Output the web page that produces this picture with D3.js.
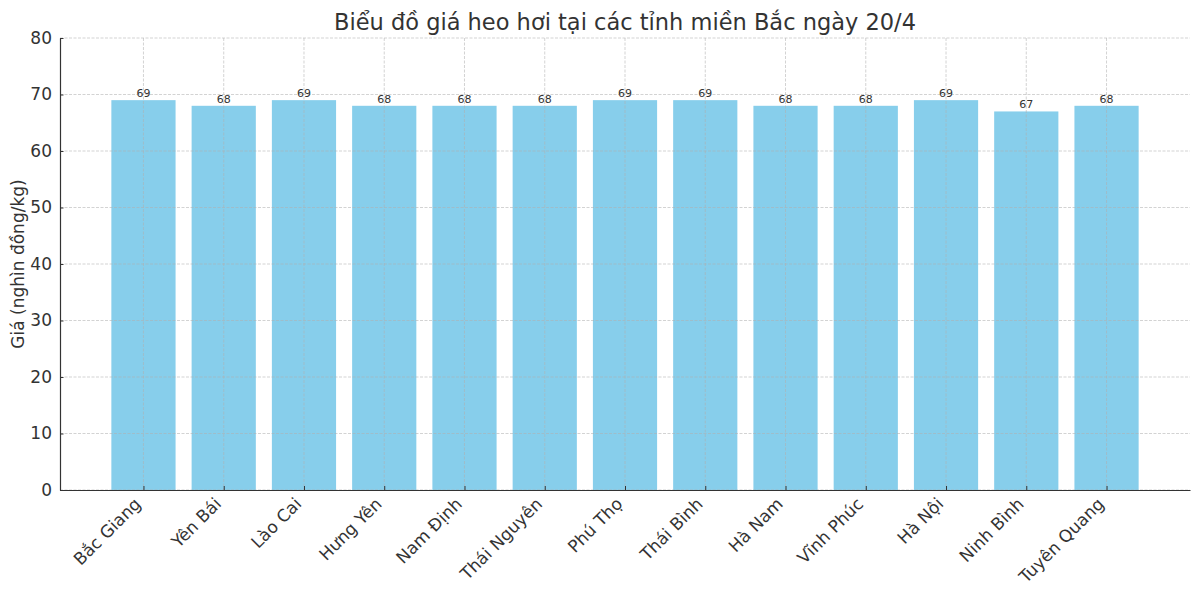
<!DOCTYPE html>
<html>
<head>
<meta charset="utf-8">
<script src="https://cdn.jsdelivr.net/npm/d3@7"></script>
<style>
  body { margin: 0; background: #fff; }
  text { font-family: "DejaVu Sans", sans-serif; fill: #333; }
</style>
</head>
<body>
<div id="chart"></div>
<script>
const provinces = ['Bắc Giang', 'Yên Bái', 'Lào Cai', 'Hưng Yên', 'Nam Định', 'Thái Nguyên',
  'Phú Thọ', 'Thái Bình', 'Hà Nam', 'Vĩnh Phúc', 'Hà Nội', 'Ninh Bình', 'Tuyên Quang'];
const prices = [69, 68, 69, 68, 68, 68, 69, 69, 68, 68, 69, 67, 68];
const yTicks = [0, 10, 20, 30, 40, 50, 60, 70, 80];
const titleText = 'Biểu đồ giá heo hơi tại các tỉnh miền Bắc ngày 20/4';
const yLabelText = 'Giá (nghìn đồng/kg)';

const width = 1200;
const height = 595;
const margin = { top: 38, right: 10, bottom: 105, left: 60 };
const innerW = width - margin.left - margin.right;
const innerH = height - margin.top - margin.bottom;

const svg = d3.select('#chart').append('svg')
  .attr('width', width)
  .attr('height', height);

const g = svg.append('g')
  .attr('transform', `translate(${margin.left},${margin.top})`);

/* matplotlib-like category axis: bars of width 0.8 with 5% margins */
const n = provinces.length;
const lo = -0.4 - 0.05 * (n - 1 + 0.8);
const hi = n - 1 + 0.4 + 0.05 * (n - 1 + 0.8);
const x = d3.scaleLinear().domain([lo, hi]).range([0, innerW]);
const y = d3.scaleLinear().domain([0, 80]).range([innerH, 0]);

/* bars */
g.selectAll('.bar')
  .data(prices)
  .join('rect')
  .attr('class', 'bar')
  .attr('x', (d, i) => x(i - 0.4))
  .attr('width', (d, i) => x(i + 0.4) - x(i - 0.4))
  .attr('y', (d) => y(d))
  .attr('height', (d) => innerH - y(d))
  .attr('fill', '#87CEEB');

/* grid on top of bars */
const grid = g.append('g').attr('class', 'grid');
grid.selectAll('.hgrid')
  .data(yTicks)
  .join('line')
  .attr('x1', 0).attr('x2', innerW)
  .attr('y1', (d) => y(d)).attr('y2', (d) => y(d))
  .attr('stroke', '#b0b0b0')
  .attr('stroke-opacity', 0.7)
  .attr('stroke-width', 0.8)
  .attr('stroke-dasharray', '3,1.5');
grid.selectAll('.vgrid')
  .data(provinces)
  .join('line')
  .attr('x1', (d, i) => x(i)).attr('x2', (d, i) => x(i))
  .attr('y1', 0).attr('y2', innerH)
  .attr('stroke', '#b0b0b0')
  .attr('stroke-opacity', 0.7)
  .attr('stroke-width', 0.8)
  .attr('stroke-dasharray', '3,1.5');

/* value labels */
g.selectAll('.val')
  .data(prices)
  .join('text')
  .attr('class', 'val')
  .attr('x', (d, i) => x(i))
  .attr('y', (d) => y(d) - 3)
  .attr('text-anchor', 'middle')
  .attr('font-size', 11)
  .text((d) => d);

/* y axis */
const yAxis = g.append('g')
  .call(d3.axisLeft(y).tickValues(yTicks).tickSizeInner(-3.5).tickSizeOuter(0).tickPadding(8));
yAxis.select('.domain').attr('stroke', '#333').attr('stroke-width', 1.2);
yAxis.selectAll('.tick line').attr('stroke', '#333');
yAxis.selectAll('.tick text').attr('font-size', 17).attr('fill', '#333');

/* x axis */
const xAxis = g.append('g')
  .attr('transform', `translate(0,${innerH})`)
  .call(d3.axisBottom(x).tickValues(d3.range(n)).tickFormat((i) => provinces[i])
    .tickSizeInner(-4).tickSizeOuter(0));
xAxis.select('.domain').attr('stroke', '#333').attr('stroke-width', 1.2);
xAxis.selectAll('.tick line').attr('stroke', '#333');
xAxis.selectAll('.tick text')
  .attr('font-size', 17)
  .attr('fill', '#333')
  .attr('text-anchor', 'end')
  .attr('x', 0).attr('y', 0).attr('dy', '0.75em')
  .attr('transform', 'translate(-11,6) rotate(-45)');

/* title and y label */
svg.append('text')
  .attr('x', margin.left + innerW / 2)
  .attr('y', 30)
  .attr('text-anchor', 'middle')
  .attr('font-size', 22.5)
  .text(titleText);

svg.append('text')
  .attr('transform', `translate(24,${margin.top + innerH / 2}) rotate(-90)`)
  .attr('text-anchor', 'middle')
  .attr('font-size', 17)
  .text(yLabelText);
</script>
</body>
</html>
